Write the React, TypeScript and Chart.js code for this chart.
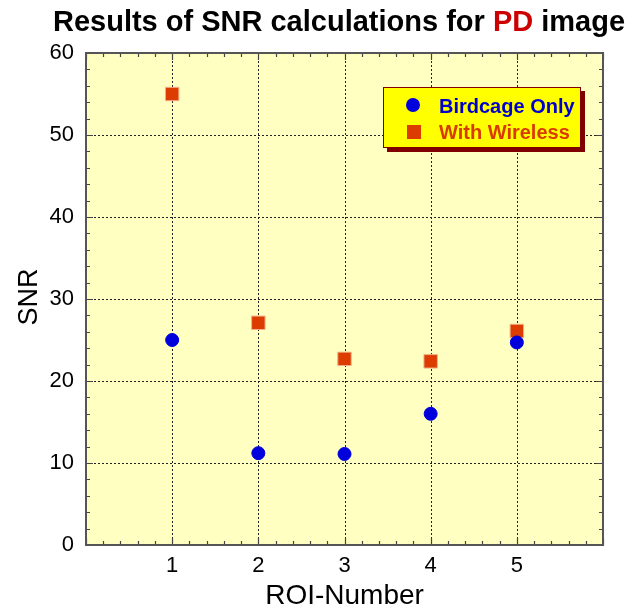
import React, { useEffect, useRef } from 'react';
import { Chart, registerables } from 'chart.js';

Chart.register(...registerables);

// ---- data ----
const roiNumbers = [1, 2, 3, 4, 5];
const birdcageOnly = [25.0, 11.2, 11.1, 16.0, 24.7];
const withWireless = [55.0, 27.1, 22.7, 22.4, 26.1];
const seriesNames = ['Birdcage Only', 'With Wireless'];
const xTickValues = [1, 2, 3, 4, 5];
const yTickValues = [0, 10, 20, 30, 40, 50, 60];
const xMinorStep = 0.2;
const yMinorStep = 2;
const titleParts = [
  { text: 'Results of SNR calculations for ', color: '#000000' },
  { text: 'PD', color: '#cc0000' },
  { text: ' image', color: '#000000' },
];
const xAxisTitle = 'ROI-Number';
const yAxisTitle = 'SNR';

const FONT = '"Liberation Sans", Arial, Helvetica, sans-serif';
const BLUE = '#0000dd';
const ORANGE = '#dc3c00';

const framePlugin = {
  id: 'framePlugin',
  beforeDatasetsDraw(chart: any) {
    const { ctx, chartArea: a, scales } = chart;
    const xs = scales.x;
    const ys = scales.y;
    ctx.save();
    // background
    ctx.fillStyle = '#ffffc2';
    ctx.fillRect(a.left, a.top, a.right - a.left, a.bottom - a.top);
    // dotted grid
    ctx.strokeStyle = '#222222';
    ctx.lineWidth = 1;
    ctx.setLineDash([2, 2]);
    for (const v of xTickValues) {
      const px = Math.round(xs.getPixelForValue(v)) + 0.5;
      ctx.beginPath();
      ctx.moveTo(px, a.top);
      ctx.lineTo(px, a.bottom);
      ctx.stroke();
    }
    for (const v of yTickValues) {
      if (v === ys.min || v === ys.max) continue;
      const py = Math.round(ys.getPixelForValue(v)) + 0.5;
      ctx.beginPath();
      ctx.moveTo(a.left, py);
      ctx.lineTo(a.right, py);
      ctx.stroke();
    }
    ctx.setLineDash([]);
    // tick marks (inside, all four sides)
    ctx.strokeStyle = '#444444';
    ctx.lineWidth = 1.2;
    const major = 7;
    const minor = 4;
    const nx = Math.round((xs.max - xs.min) / xMinorStep);
    for (let i = 0; i <= nx; i++) {
      const v = xs.min + i * xMinorStep;
      const isMajor = Math.abs(v - Math.round(v)) < 1e-6;
      const len = isMajor ? major : minor;
      const px = Math.round(xs.getPixelForValue(v)) + 0.5;
      ctx.beginPath();
      ctx.moveTo(px, a.bottom);
      ctx.lineTo(px, a.bottom - len);
      ctx.moveTo(px, a.top);
      ctx.lineTo(px, a.top + len);
      ctx.stroke();
    }
    const ny = Math.round((ys.max - ys.min) / yMinorStep);
    for (let i = 0; i <= ny; i++) {
      const v = ys.min + i * yMinorStep;
      const isMajor = v % 10 === 0;
      const len = isMajor ? major : minor;
      const py = Math.round(ys.getPixelForValue(v)) + 0.5;
      ctx.beginPath();
      ctx.moveTo(a.left, py);
      ctx.lineTo(a.left + len, py);
      ctx.moveTo(a.right, py);
      ctx.lineTo(a.right - len, py);
      ctx.stroke();
    }
    // frame
    ctx.strokeStyle = '#555555';
    ctx.lineWidth = 2;
    ctx.strokeRect(a.left, a.top, a.right - a.left, a.bottom - a.top);
    ctx.restore();
  },
  afterDraw(chart: any) {
    const { ctx, chartArea: a } = chart;
    ctx.save();
    // title
    ctx.font = `bold 29px ${FONT}`;
    ctx.textBaseline = 'alphabetic';
    ctx.textAlign = 'left';
    const total = titleParts.reduce((w, p) => w + ctx.measureText(p.text).width, 0);
    let tx = 339 - total / 2;
    for (const p of titleParts) {
      ctx.fillStyle = p.color;
      ctx.fillText(p.text, tx, 31);
      tx += ctx.measureText(p.text).width;
    }
    // x axis title
    ctx.font = `28px ${FONT}`;
    ctx.fillStyle = '#000';
    ctx.textAlign = 'center';
    ctx.fillText(xAxisTitle, (a.left + a.right) / 2, 604);
    // y axis title
    ctx.save();
    ctx.translate(37, (a.top + a.bottom) / 2 - 2);
    ctx.rotate(-Math.PI / 2);
    ctx.font = `27px ${FONT}`;
    ctx.fillText(yAxisTitle, 0, 0);
    ctx.restore();

    // legend
    const lx = 383, ly = 87, lw = 198, lh = 61;
    ctx.fillStyle = '#800000';
    ctx.fillRect(lx + 4, ly + 4, lw, lh);
    ctx.fillStyle = '#ffff00';
    ctx.fillRect(lx, ly, lw, lh);
    ctx.strokeStyle = '#800000';
    ctx.lineWidth = 1;
    ctx.strokeRect(lx + 0.5, ly + 0.5, lw - 1, lh - 1);
    const ds = chart.data.datasets;
    ctx.font = `bold 20px ${FONT}`;
    ctx.textAlign = 'left';
    // item 1: circle
    ctx.fillStyle = ds[0].backgroundColor;
    ctx.beginPath();
    ctx.arc(413, 105, 7, 0, Math.PI * 2);
    ctx.fill();
    ctx.fillStyle = '#0000cc';
    ctx.fillText(ds[0].label, 439, 113);
    // item 2: square
    ctx.fillStyle = ds[1].backgroundColor;
    ctx.fillRect(407, 125, 14, 14);
    ctx.fillStyle = '#d83a00';
    ctx.fillText(ds[1].label, 439, 139);
    ctx.restore();
  },
};

export default function App() {
  const ref = useRef<HTMLCanvasElement | null>(null);
  useEffect(() => {
    document.body.style.margin = '0';
    const canvas = ref.current;
    if (!canvas) return;
    const chart = new Chart(canvas, {
      type: 'scatter',
      data: {
        datasets: [
          {
            label: seriesNames[0],
            data: roiNumbers.map((x, i) => ({ x, y: birdcageOnly[i] })),
            pointStyle: 'circle',
            pointRadius: 6.5,
            backgroundColor: BLUE,
            borderColor: BLUE,
            borderWidth: 1,
          },
          {
            label: seriesNames[1],
            data: roiNumbers.map((x, i) => ({ x, y: withWireless[i] })),
            pointStyle: 'rect',
            pointRadius: 9.5,
            backgroundColor: ORANGE,
            borderColor: '#f2b088',
            borderWidth: 1,
          },
        ],
      },
      options: {
        responsive: false,
        animation: false,
        devicePixelRatio: 1,
        layout: { padding: { top: 53, right: 38, left: 0, bottom: 0 } },
        plugins: {
          legend: { display: false },
          tooltip: { enabled: false },
          title: { display: false },
        },
        scales: {
          x: {
            type: 'linear',
            min: 0,
            max: 6,
            afterBuildTicks: (s: any) => {
              s.ticks = xTickValues.map((v) => ({ value: v }));
            },
            afterFit: (s: any) => {
              s.height = 63;
            },
            ticks: {
              font: { family: FONT, size: 22 },
              color: '#000',
              padding: 8,
              maxRotation: 0,
              autoSkip: false,
            },
            grid: { display: false, drawTicks: false },
            border: { display: false },
          },
          y: {
            type: 'linear',
            min: 0,
            max: 60,
            afterBuildTicks: (s: any) => {
              s.ticks = yTickValues.map((v) => ({ value: v }));
            },
            afterFit: (s: any) => {
              s.width = 86;
            },
            ticks: {
              font: { family: FONT, size: 22 },
              color: '#000',
              padding: 12,
            },
            grid: { display: false, drawTicks: false },
            border: { display: false },
          },
        },
      },
      plugins: [framePlugin],
    } as any);
    return () => chart.destroy();
  }, []);
  return (
    <div style={{ position: 'fixed', left: 0, top: 0, width: 641, height: 608, background: '#fff' }}>
      <canvas ref={ref} width={641} height={608} style={{ width: 641, height: 608 }} />
    </div>
  );
}
